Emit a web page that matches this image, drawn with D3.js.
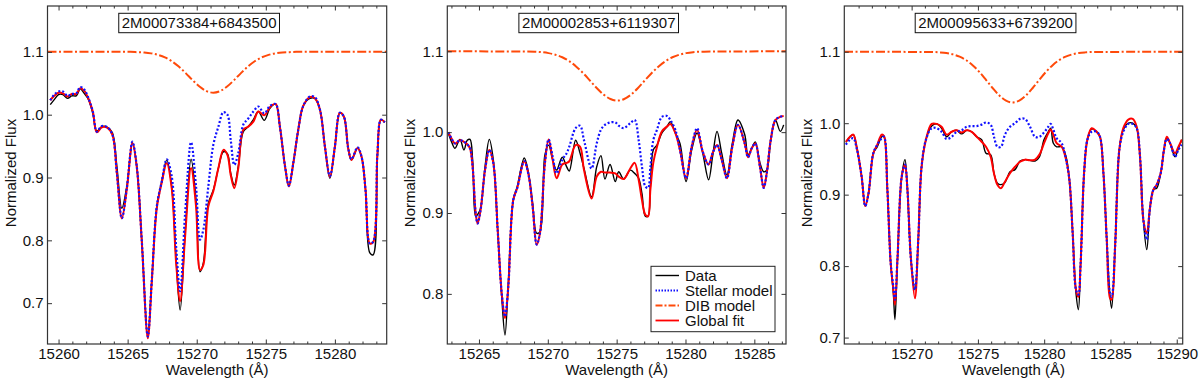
<!DOCTYPE html>
<html><head><meta charset="utf-8">
<script src="https://cdn.jsdelivr.net/npm/d3@7"></script>
<style>
body{margin:0;background:#fff}
svg{display:block}
text{font-family:"Liberation Sans",Arial,Helvetica,sans-serif;fill:#111}
</style>
</head><body>
<svg id="chart" width="1200" height="384"></svg>
<script>
// ---------- Panel 1 : 2M00073384+6843500 ----------
const p1Name = "2M00073384+6843500";
const p1Wave = [15259.40,15259.69,15260.00,15260.31,15260.65,15260.96,15261.28,15261.57,15261.86,15262.17,15262.48,15262.77,15263.13,15263.54,15263.90,15264.22,15264.58,15264.94,15265.35,15265.66,15266.02,15266.46,15266.75,15267.11,15267.47,15267.83,15268.19,15268.51,15268.80,15269.16,15269.59,15269.95,15270.24,15270.48,15270.84,15271.20,15271.57,15271.93,15272.22,15272.46,15272.72,15273.01,15273.37,15273.73,15274.10,15274.46,15274.89,15275.30,15275.71,15276.02,15276.39,15276.67,15276.99,15277.35,15277.71,15278.19,15278.55,15278.92,15279.28,15279.64,15280.00,15280.36,15280.65,15280.96,15281.20,15281.64,15281.93,15282.22,15282.53,15282.77,15283.08,15283.33,15283.61];
const p1Data = [1.016,1.024,1.032,1.032,1.026,1.030,1.030,1.041,1.034,1.024,1.002,0.974,0.981,0.980,0.971,0.918,0.851,0.886,0.955,0.918,0.801,0.650,0.737,0.854,0.894,0.928,0.886,0.769,0.689,0.811,0.929,0.864,0.750,0.764,0.859,0.880,0.915,0.941,0.938,0.907,0.888,0.918,0.973,0.981,0.992,1.005,0.991,1.010,1.017,0.981,0.918,0.887,0.923,0.976,1.014,1.026,1.026,1.008,0.949,0.899,0.949,1.003,0.997,0.947,0.928,0.947,0.933,0.880,0.780,0.777,0.933,0.992,0.988];
const p1Stellar = [1.023,1.032,1.037,1.037,1.030,1.033,1.034,1.044,1.040,1.026,1.005,0.973,0.982,0.980,0.968,0.907,0.835,0.883,0.957,0.918,0.801,0.647,0.737,0.854,0.894,0.929,0.902,0.790,0.719,0.843,0.956,0.886,0.801,0.817,0.886,0.952,0.981,1.004,1.000,0.960,0.920,0.939,0.984,0.994,1.005,1.013,1.002,1.014,1.017,0.981,0.918,0.887,0.923,0.976,1.014,1.029,1.028,1.008,0.949,0.902,0.949,1.003,0.997,0.947,0.929,0.948,0.933,0.880,0.795,0.798,0.939,0.992,0.988];
const p1Fit = [1.023,1.030,1.035,1.034,1.029,1.033,1.033,1.042,1.038,1.025,1.005,0.972,0.980,0.979,0.968,0.907,0.835,0.881,0.955,0.917,0.800,0.644,0.735,0.851,0.892,0.923,0.883,0.764,0.703,0.806,0.915,0.854,0.753,0.761,0.854,0.878,0.915,0.944,0.936,0.904,0.883,0.915,0.976,0.981,0.989,1.005,0.999,1.012,1.017,0.981,0.918,0.886,0.923,0.976,1.014,1.028,1.026,1.008,0.949,0.901,0.949,1.003,0.997,0.947,0.928,0.947,0.933,0.880,0.795,0.797,0.939,0.992,0.988];
const p1DibWave = [15259.2,15265.2,15265.7,15266.2,15266.7,15267.2,15267.7,15268.2,15268.7,15269.2,15269.7,15270.2,15270.7,15271.2,15271.7,15272.2,15272.7,15273.2,15273.7,15274.2,15274.7,15275.2,15275.7,15276.2,15276.7,15277.2,15283.8];
const p1Dib = [1.1,1.1,1.0995,1.0989,1.0976,1.0952,1.0912,1.0850,1.0766,1.0662,1.0550,1.0448,1.0376,1.035,1.0376,1.0448,1.0550,1.0662,1.0766,1.0850,1.0912,1.0952,1.0976,1.0989,1.0995,1.1,1.1];
const p1XTicks = [15260,15265,15270,15275,15280];
const p1YTicks = [0.7,0.8,0.9,1.0,1.1];

// ---------- Panel 2 : 2M00002853+6119307 ----------
const p2Name = "2M00002853+6119307";
const p2Wave = [15262.77,15263.01,15263.26,15263.62,15263.91,15264.15,15264.35,15264.54,15264.76,15264.90,15265.12,15265.44,15265.75,15266.04,15266.36,15266.65,15266.89,15267.13,15267.49,15267.78,15268.29,15268.58,15268.90,15269.19,15269.43,15269.79,15270.06,15270.35,15270.64,15271.05,15271.37,15271.56,15272.02,15272.34,15272.63,15273.18,15273.55,15273.86,15274.15,15274.52,15274.90,15275.15,15275.51,15275.99,15276.31,15276.60,15276.84,15277.08,15277.28,15277.45,15277.66,15277.93,15278.29,15278.66,15278.90,15279.26,15279.60,15280.04,15280.45,15280.84,15281.25,15281.68,15281.97,15282.29,15282.63,15283.01,15283.40,15283.81,15284.30,15284.54,15284.81,15285.07,15285.41,15285.68,15285.90,15286.19,15286.53,15286.89,15287.13];
const p2Data = [0.999,0.988,0.980,0.991,0.978,0.990,0.991,0.966,0.896,0.898,0.906,0.957,0.991,0.966,0.879,0.797,0.749,0.813,0.916,0.933,0.968,0.951,0.912,0.875,0.877,0.972,0.984,0.966,0.953,0.969,0.957,0.952,0.990,0.974,0.955,0.920,0.957,0.971,0.942,0.960,0.939,0.951,0.942,0.953,0.949,0.943,0.924,0.896,0.896,0.933,0.978,0.984,0.999,1.007,1.013,0.999,0.986,0.939,0.978,0.999,0.974,0.941,0.970,1.001,0.974,0.947,0.986,1.015,0.997,0.972,0.980,0.988,0.962,0.951,0.953,0.990,1.015,1.001,1.009];
const p2Stellar = [1.000,0.992,0.986,0.990,0.988,0.985,0.980,0.957,0.900,0.887,0.904,0.953,0.978,0.962,0.879,0.801,0.772,0.809,0.916,0.931,0.964,0.949,0.908,0.861,0.875,0.962,0.991,0.970,0.949,0.966,0.974,0.982,1.005,1.008,0.990,0.955,0.986,1.003,1.009,1.012,1.012,1.008,1.005,1.011,1.015,0.990,0.957,0.933,0.931,0.957,0.990,1.003,1.019,1.020,1.015,1.003,0.978,0.943,0.982,1.005,0.976,0.960,0.974,0.984,0.966,0.943,0.982,1.009,0.986,0.969,0.980,0.986,0.957,0.931,0.949,0.990,1.015,1.019,1.020];
const p2Fit = [1.000,0.992,0.986,0.990,0.988,0.985,0.980,0.957,0.900,0.887,0.904,0.953,0.978,0.962,0.879,0.801,0.770,0.809,0.916,0.931,0.964,0.949,0.908,0.861,0.875,0.962,0.991,0.966,0.943,0.960,0.962,0.964,0.984,0.982,0.953,0.918,0.945,0.951,0.950,0.950,0.949,0.945,0.942,0.955,0.962,0.941,0.916,0.898,0.896,0.929,0.962,0.982,1.001,1.007,1.010,0.999,0.978,0.943,0.982,1.003,0.976,0.960,0.974,0.984,0.966,0.943,0.982,1.009,0.986,0.969,0.980,0.986,0.957,0.931,0.949,0.990,1.015,1.019,1.020];
const p2DibWave = [15262.7,15269.05,15269.55,15270.05,15270.55,15271.05,15271.55,15272.05,15272.55,15273.05,15273.55,15274.05,15274.55,15275.05,15275.55,15276.05,15276.55,15277.05,15277.55,15278.05,15278.55,15279.05,15279.55,15280.05,15280.55,15281.05,15287.3];
const p2Dib = [1.1,1.0995,1.0989,1.0977,1.0957,1.0926,1.0878,1.0813,1.0732,1.0640,1.0546,1.0465,1.0410,1.039,1.0410,1.0465,1.0546,1.0640,1.0732,1.0813,1.0878,1.0926,1.0957,1.0977,1.0989,1.0995,1.1];
const p2XTicks = [15265,15270,15275,15280,15285];
const p2YTicks = [0.8,0.9,1.0,1.1];

// ---------- Panel 3 : 2M00095633+6739200 ----------
const p3Name = "2M00095633+6739200";
const p3Wave = [15265.04,15265.35,15265.60,15265.85,15266.23,15266.50,15266.75,15267.11,15267.41,15267.74,15267.91,15268.16,15268.42,15268.62,15268.74,15268.94,15269.25,15269.50,15269.67,15269.95,15270.25,15270.50,15270.75,15271.08,15271.51,15271.89,15272.26,15272.64,15273.02,15273.40,15273.77,15274.15,15274.53,15274.91,15275.28,15275.61,15275.96,15276.21,15276.47,15276.74,15277.04,15277.42,15277.80,15278.18,15278.55,15278.93,15279.31,15279.64,15279.99,15280.31,15280.49,15280.69,15280.94,15281.32,15281.65,15281.90,15282.15,15282.40,15282.58,15282.75,15283.01,15283.26,15283.58,15283.96,15284.21,15284.47,15284.72,15284.97,15285.09,15285.35,15285.67,15285.97,15286.35,15286.68,15286.98,15287.23,15287.48,15287.74,15287.99,15288.24,15288.49,15288.79,15289.04,15289.25,15289.50,15289.87,15290.13,15290.38];
const p3Data = [0.973,0.981,0.984,0.967,0.925,0.884,0.902,0.958,0.967,0.981,0.982,0.911,0.804,0.762,0.725,0.813,0.925,0.949,0.911,0.809,0.767,0.837,0.939,0.977,0.996,0.999,0.993,0.981,0.988,0.990,0.985,0.990,0.988,0.981,0.977,0.958,0.956,0.930,0.916,0.914,0.917,0.932,0.935,0.947,0.949,0.948,0.947,0.953,0.977,0.988,0.993,0.972,0.967,0.967,0.953,0.921,0.846,0.762,0.739,0.804,0.930,0.977,0.992,0.988,0.981,0.930,0.837,0.757,0.741,0.827,0.963,0.991,1.000,1.000,0.993,0.953,0.865,0.823,0.883,0.907,0.909,0.930,0.963,0.979,0.972,0.953,0.965,0.977];
const p3Stellar = [0.970,0.977,0.979,0.965,0.925,0.884,0.902,0.958,0.970,0.979,0.981,0.911,0.804,0.771,0.753,0.813,0.925,0.942,0.911,0.809,0.767,0.837,0.939,0.977,0.993,0.993,0.988,0.978,0.981,0.988,0.990,0.995,0.996,0.996,0.998,1.001,0.998,0.981,0.967,0.967,0.984,0.995,1.000,1.006,1.006,0.995,0.981,0.981,0.987,0.995,0.999,0.991,0.979,0.972,0.949,0.921,0.846,0.767,0.760,0.804,0.930,0.977,0.988,0.988,0.981,0.930,0.837,0.762,0.757,0.827,0.963,0.988,0.999,0.999,0.993,0.953,0.865,0.837,0.883,0.907,0.914,0.930,0.963,0.978,0.972,0.953,0.963,0.970];
const p3Fit = [0.974,0.981,0.984,0.967,0.925,0.884,0.902,0.958,0.970,0.984,0.982,0.911,0.804,0.767,0.746,0.813,0.925,0.942,0.911,0.809,0.755,0.837,0.939,0.977,0.999,0.999,0.995,0.984,0.988,0.990,0.987,0.990,0.988,0.981,0.974,0.967,0.953,0.930,0.914,0.909,0.918,0.930,0.939,0.946,0.949,0.948,0.949,0.956,0.972,0.986,0.991,0.984,0.972,0.967,0.949,0.921,0.846,0.767,0.757,0.804,0.930,0.977,0.993,0.988,0.981,0.930,0.837,0.755,0.753,0.827,0.963,0.993,1.005,1.006,0.995,0.953,0.865,0.846,0.883,0.907,0.914,0.930,0.963,0.981,0.972,0.958,0.967,0.977];
const p3DibWave = [15264.9,15271.62,15272.12,15272.62,15273.12,15273.62,15274.12,15274.62,15275.12,15275.62,15276.12,15276.62,15277.12,15277.62,15278.12,15278.62,15279.12,15279.62,15280.12,15280.62,15281.12,15281.62,15282.12,15282.62,15283.12,15283.62,15290.5];
const p3Dib = [1.1,1.0996,1.0991,1.0982,1.0963,1.0931,1.0881,1.0809,1.0715,1.0604,1.0489,1.0387,1.0316,1.029,1.0316,1.0387,1.0489,1.0604,1.0715,1.0809,1.0881,1.0931,1.0963,1.0982,1.0991,1.0996,1.1];
const p3XTicks = [15270,15275,15280,15285,15290];
const p3YTicks = [0.7,0.8,0.9,1.0,1.1];

const legendLabels = ["Data","Stellar model","DIB model","Global fit"];
const xLabel = "Wavelength (Å)";
const yLabel = "Normalized Flux";

// ---------- drawing ----------
const svg = d3.select("#chart");
const plotTop = 6, plotBottom = 344;
const FS = 15;
const colData = "#000", colStellar = "#1010ff", colDib = "#ff4a0a", colFit = "#ff0000", frameCol = "#333";

const panels = [
  {name:p1Name, wave:p1Wave, data:p1Data, stellar:p1Stellar, fit:p1Fit, dibWave:p1DibWave, dib:p1Dib,
   xd:[15259.2,15283.75], yd:[0.635,1.173], xt:p1XTicks, yt:p1YTicks, left:47.5, right:386.7, legend:false},
  {name:p2Name, wave:p2Wave, data:p2Data, stellar:p2Stellar, fit:p2Fit, dibWave:p2DibWave, dib:p2Dib,
   xd:[15262.7,15287.3], yd:[0.738,1.156], xt:p2XTicks, yt:p2YTicks, left:447.3, right:786, legend:true},
  {name:p3Name, wave:p3Wave, data:p3Data, stellar:p3Stellar, fit:p3Fit, dibWave:p3DibWave, dib:p3Dib,
   xd:[15264.92,15290.45], yd:[0.691,1.164], xt:p3XTicks, yt:p3YTicks, left:844.3, right:1182.7, legend:false}
];

const styles = {
  data:{stroke:colData, w:1.4, dash:null},
  stellar:{stroke:colStellar, w:2.2, dash:"2,2"},
  dib:{stroke:colDib, w:2, dash:"9,2.5,2,2.5"},
  fit:{stroke:colFit, w:2, dash:null}
};

panels.forEach((p, i) => {
  const x = d3.scaleLinear().domain(p.xd).range([p.left, p.right]);
  const y = d3.scaleLinear().domain(p.yd).range([plotBottom, plotTop]);
  const g = svg.append("g");
  const clipId = "clip" + i;
  svg.append("defs").append("clipPath").attr("id", clipId)
    .append("rect").attr("x", p.left).attr("y", plotTop)
    .attr("width", p.right - p.left).attr("height", plotBottom - plotTop);

  const lines = g.append("g").attr("clip-path", `url(#${clipId})`);
  const mk = (xs, curve) => d3.line().x((d, k) => x(xs[k])).y(d => y(d)).curve(curve);

  const draw = (xs, ys, st, curve) => lines.append("path")
    .attr("d", mk(xs, curve)(ys)).attr("fill", "none")
    .attr("stroke", st.stroke).attr("stroke-width", st.w)
    .attr("stroke-dasharray", st.dash).attr("stroke-linejoin", "round");

  draw(p.wave, p.data, styles.data, d3.curveCatmullRom.alpha(0.5));
  draw(p.wave, p.fit, styles.fit, d3.curveCatmullRom.alpha(0.5));
  draw(p.wave, p.stellar, styles.stellar, d3.curveCatmullRom.alpha(0.5));
  draw(p.dibWave, p.dib, styles.dib, d3.curveMonotoneX);

  // minor x ticks (every 1 Å)
  const minor = d3.range(Math.ceil(p.xd[0]), Math.floor(p.xd[1]) + 1).filter(v => v % 5 !== 0);
  const tickStyle = sel => { sel.select(".domain").remove(); sel.selectAll(".tick line").attr("stroke", frameCol).attr("stroke-width", 1); };

  g.append("g").attr("transform", `translate(0,${plotBottom})`)
    .call(d3.axisBottom(x).tickValues(p.xt).tickSize(-4.5).tickPadding(4.5).tickFormat(d3.format("d")))
    .call(tickStyle)
    .call(s => s.selectAll("text").attr("font-size", FS).attr("fill", "#111").style("font-family", '"Liberation Sans",Arial,sans-serif'));
  g.append("g").attr("transform", `translate(0,${plotBottom})`)
    .call(d3.axisBottom(x).tickValues(minor).tickSize(-2.5).tickFormat(""))
    .call(tickStyle);
  g.append("g").attr("transform", `translate(0,${plotTop})`)
    .call(d3.axisTop(x).tickValues(p.xt).tickSize(-4.5).tickFormat(""))
    .call(tickStyle);
  g.append("g").attr("transform", `translate(0,${plotTop})`)
    .call(d3.axisTop(x).tickValues(minor).tickSize(-2.5).tickFormat(""))
    .call(tickStyle);
  g.append("g").attr("transform", `translate(${p.left},0)`)
    .call(d3.axisLeft(y).tickValues(p.yt).tickSize(-4.5).tickPadding(4).tickFormat(d3.format(".1f")))
    .call(tickStyle)
    .call(s => s.selectAll("text").attr("font-size", FS).attr("fill", "#111").style("font-family", '"Liberation Sans",Arial,sans-serif'));
  g.append("g").attr("transform", `translate(${p.right},0)`)
    .call(d3.axisRight(y).tickValues(p.yt).tickSize(-4.5).tickFormat(""))
    .call(tickStyle);

  // frame
  g.append("rect").attr("x", p.left).attr("y", plotTop)
    .attr("width", p.right - p.left).attr("height", plotBottom - plotTop)
    .attr("fill", "none").attr("stroke", frameCol).attr("stroke-width", 1.2);

  // axis labels
  g.append("text").attr("x", (p.left + p.right) / 2).attr("y", 375)
    .attr("text-anchor", "middle").attr("font-size", FS).text(xLabel);
  g.append("text").attr("transform", `translate(${p.left - 32},${(plotTop + plotBottom) / 2 - 2}) rotate(-90)`)
    .attr("text-anchor", "middle").attr("font-size", FS).text(yLabel);

  // star name box
  const cx = p.left + 0.447 * (p.right - p.left);
  const tg = g.append("g");
  const t = tg.append("text").attr("x", cx).attr("y", 27.5).attr("text-anchor", "middle")
    .attr("font-size", FS).text(p.name);
  const bb = t.node().getBBox();
  tg.insert("rect", "text").attr("x", bb.x - 3).attr("y", 13.3)
    .attr("width", bb.width + 6).attr("height", 19.4)
    .attr("fill", "#fff").attr("stroke", "#111").attr("stroke-width", 1);

  if (p.legend) {
    const lg = g.append("g");
    lg.append("rect").attr("x", 651).attr("y", 266.3).attr("width", 124).attr("height", 65.4)
      .attr("fill", "#fff").attr("stroke", "#222").attr("stroke-width", 1);
    const keys = ["data", "stellar", "dib", "fit"];
    legendLabels.forEach((lab, k) => {
      const by = 280.5 + k * 15;
      const st = styles[keys[k]];
      lg.append("line").attr("x1", 655.5).attr("x2", 679).attr("y1", by - 5).attr("y2", by - 5)
        .attr("stroke", st.stroke).attr("stroke-width", Math.min(st.w, 1.8))
        .attr("stroke-dasharray", st.dash ? (keys[k] === "stellar" ? "1.5,1.5" : "7,2,2,2") : null);
      lg.append("text").attr("x", 685).attr("y", by).attr("font-size", FS).text(lab);
    });
  }
});
</script>
</body></html>
